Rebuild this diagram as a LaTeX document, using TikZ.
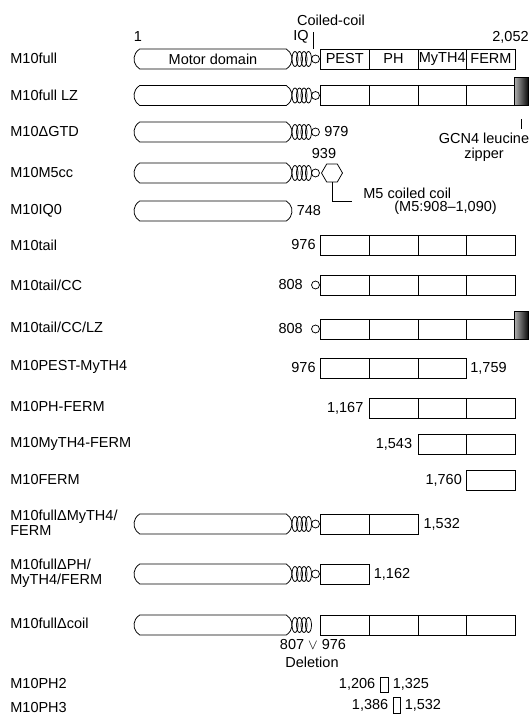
\documentclass[tikz,border=0pt]{standalone}
\usepackage{fontspec}
\setmainfont{Liberation Sans}
\usetikzlibrary{positioning,shapes.geometric,shapes.misc}
\tikzset{
  motor/.style={draw,rounded rectangle,rounded rectangle arc length=120,minimum width=158pt,
                minimum height=20pt,inner sep=0pt},
  dom/.style={draw,minimum width=48.75pt,minimum height=20pt,inner sep=0pt,anchor=west},
  cc/.style={circle,draw,minimum size=8pt,inner sep=0pt},
  hexa/.style={regular polygon,regular polygon sides=6,draw,minimum size=21pt,inner sep=0pt},
  lzbar/.style={draw,left color=black!30,right color=black!95,minimum width=14pt,minimum height=28pt,
                inner sep=0pt},
  phbox/.style={draw,inner sep=0pt},
  cname/.style={anchor=west,align=left,inner sep=0pt},
  num/.style={inner sep=1pt},
  iq/.pic={\foreach \i in {0,...,3} \draw (3+4.5*\i,0) ellipse [x radius=3pt,y radius=7.5pt];},
}
\begin{document}
\begin{tikzpicture}[x=1pt,y=-1pt,line width=0.75pt,font=\fontsize{14.5}{15}\selectfont]
  \useasboundingbox (0,0) rectangle (530,715);

  % construct names
  \node[cname] (l1) at (10,58) {M10full};
  \node[cname] (l2) at (10,95) {M10full LZ};
  \node[cname] (l3) at (10,132) {M10ΔGTD};
  \node[cname] (l4) at (10,173) {M10M5cc};
  \node[cname] (l5) at (10,211) {M10IQ0};
  \node[cname] (l6) at (10,245) {M10tail};
  \node[cname] (l7) at (10,285) {M10tail/CC};
  \node[cname] (l8) at (10,327) {M10tail/CC/LZ};
  \node[cname] (l9) at (10,367) {M10PEST-MyTH4};
  \node[cname] (l10) at (10,407) {M10PH-FERM};
  \node[cname] (l11) at (10,444) {M10MyTH4-FERM};
  \node[cname] (l12) at (10,480) {M10FERM};
  \node[cname] (l13) at (10,523) {M10fullΔMyTH4/\\FERM};
  \node[cname] (l14) at (10,573) {M10fullΔPH/\\MyTH4/FERM};
  \node[cname] (l15) at (10,623) {M10fullΔcoil};
  \node[cname] (l16) at (10,684) {M10PH2};
  \node[cname] (l17) at (10,707) {M10PH3};

  % motor domain, IQ motifs, coiled-coil
  \node[motor] (motf) at (213,59) {Motor domain};
  \foreach \n/\y in {lz/95.5,gtd/132,m5/173,iq0/211,dm/524,dp/574,dc/625}
    \node[motor] (mot\n) at (213,\y) {};
  \foreach \y in {59,95.5,132,173,524,574,625}
    \pic at (292,\y) {iq};
  \foreach \n/\y in {f/59,lz/95.5,gtd/132,m5/173,tc/285,tcl/329,dm/524,dp/574}
    \node[cc] (cc\n) at (315.5,\y) {};

  % tail domains
  \foreach \k/\t in {0/PEST,1/PH,2/MyTH4,3/FERM}
    \node[dom] (f\k) at (320+48.75*\k,59) {\t};
  \foreach \n/\y in {lz/95.5,tl/245,tc/285,tcl/329,dc/625}
    \foreach \k in {0,...,3}
      \node[dom] (\n\k) at (320+48.75*\k,\y) {};
  \foreach \k in {0,1,2} \node[dom] (pm\k) at (320+48.75*\k,368) {};
  \foreach \k in {1,2,3} \node[dom] (phf\k) at (320+48.75*\k,408) {};
  \foreach \k in {2,3} \node[dom] (mf\k) at (320+48.75*\k,444) {};
  \node[dom] (fe3) at (466.25,480) {};
  \foreach \k in {0,1} \node[dom] (dm\k) at (320+48.75*\k,524) {};
  \node[dom] (dp0) at (320,574) {};

  % leucine zipper
  \node[lzbar] (lzb1) at (521,91.5) {};
  \node[lzbar] (lzb2) at (521,325) {};
  \node[inner sep=1pt,align=center] (gcn) at (484,147) {GCN4 leucine\\zipper};
  \draw ([yshift=-13.5pt]lzb1.south) -- ([yshift=-23.5pt]lzb1.south);

  % top labels
  \node[num] (one) at (138,37) {1};
  \node[num] (iql) at (301,37) {IQ};
  \node[num] (ccl) at (331,20) {Coiled-coil};
  \node[num,anchor=east] (n2052) at (530,37) {2,052};
  \draw ([xshift=-2.5pt,yshift=6pt]ccf.north) -- ([xshift=-2.5pt,yshift=23pt]ccf.north);

  % M5 coiled coil
  \node[hexa] (hx) at (332,173) {};
  \node[num] (n939) at (324,154) {939};
  \coordinate (m5c) at (352,201);
  \draw (hx.south) |- (m5c);
  \node[num,anchor=west] (m5a) at (362,193) {M5 coiled coil};
  \node[num,anchor=west] (m5b) at (393,208) {(M5:908--1,090)};

  % residue numbers
  \node[num,right=3pt of ccgtd] (n979) {979};
  \node[num,right=3pt of motiq0] (n748) {748};
  \node[num,left=3pt of tl0] (n976a) {976};
  \node[num,left=7pt of cctc] (n808a) {808};
  \node[num,left=7pt of cctcl] (n808b) {808};
  \node[num,left=3pt of pm0] (n976b) {976};
  \node[num,right=2pt of pm2] (n1759) {1,759};
  \node[num,left=4pt of phf1] (n1167) {1,167};
  \node[num,left=4pt of mf2] (n1543) {1,543};
  \node[num,left=3pt of fe3] (n1760) {1,760};
  \node[num,right=4pt of dm1] (n1532a) {1,532};
  \node[num,right=3pt of dp0] (n1162) {1,162};
  \node[num] (n807) at (313,645) {807 $\vee$ 976};
  \node[num] (ndel) at (312,662) {Deletion};

  % PH fragments
  \node[phbox,minimum width=8pt,minimum height=15pt] (ph2) at (384,684.5) {};
  \node[num,left=3pt of ph2] (n1206) {1,206};
  \node[num,right=3pt of ph2] (n1325) {1,325};
  \node[phbox,minimum width=7pt,minimum height=16pt] (ph3) at (396.5,705) {};
  \node[num,left=3pt of ph3] (n1386) {1,386};
  \node[num,right=3pt of ph3] (n1532b) {1,532};
\end{tikzpicture}
\end{document}
